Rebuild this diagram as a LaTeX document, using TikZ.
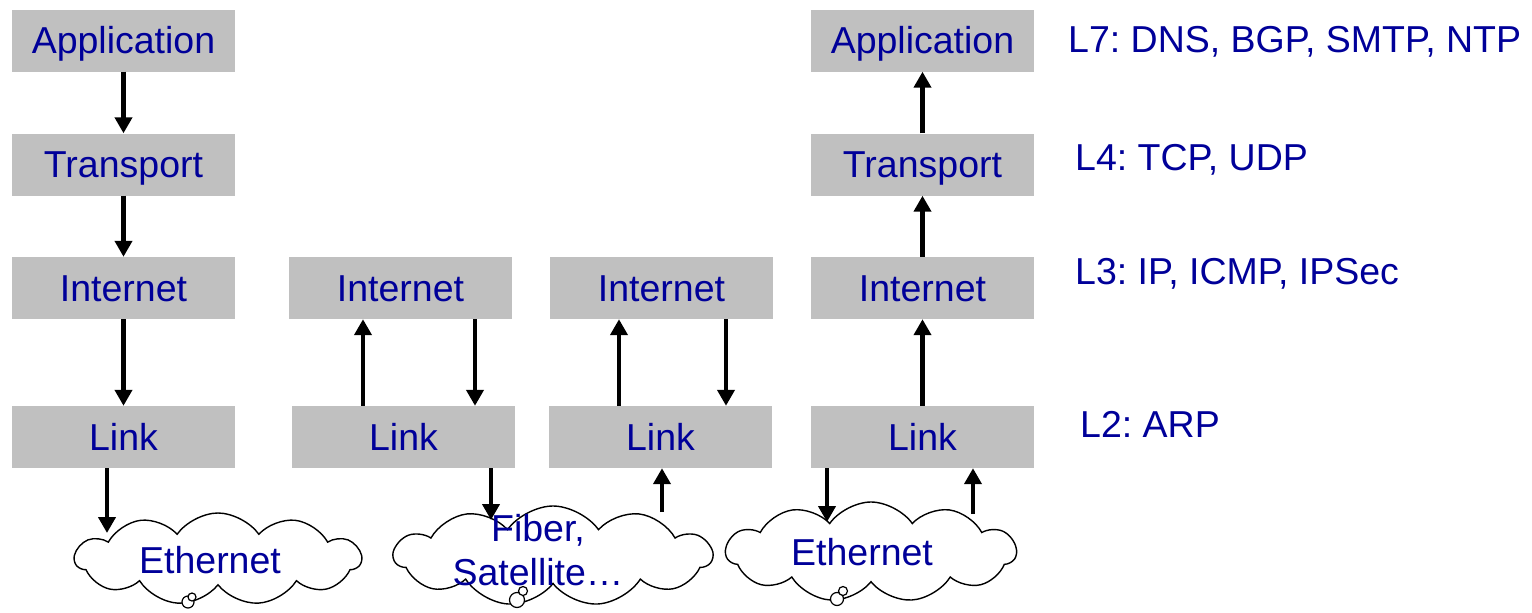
\documentclass[tikz,border=0pt]{standalone}
\usepackage{fontspec}
\setmainfont{Liberation Sans}
\usepackage{tikz}
\usetikzlibrary{arrows.meta,shapes.symbols}
\definecolor{txtblue}{RGB}{0,0,153}
\definecolor{boxgray}{RGB}{192,192,192}
\frenchspacing

\begin{document}
\begin{tikzpicture}[x=1pt,y=-1pt,
  big/.style={text=txtblue,font=\fontsize{37.5}{44}\selectfont},
  layer/.style={big,fill=boxgray,minimum width=223pt,minimum height=62pt,inner sep=0pt,text height=26.8pt,text depth=0pt},
  arr/.style={line width=4.6pt,-{Triangle[width=17pt,length=16pt]}},
  net/.style={cloud,cloud puffs=11,cloud puff arc=110,aspect=3,draw,line width=1.4pt,fill=white,inner sep=0pt},
  nettext/.style={big,align=center,inner sep=0pt},
  proto/.style={big,anchor=west,inner sep=0pt}]
\useasboundingbox (0,0) rectangle (1532,613);
% sending host
\node[layer] (app1) at (123.5,40.5) {Application};
\node[layer] (trans1) at (123.5,164.5) {Transport};
\node[layer] (inet1) at (123.5,288) {Internet};
\node[layer] (link1) at (123.5,437) {Link};
% routers
\node[layer] (inet2) at (400.5,288) {Internet};
\node[layer] (link2) at (403.5,437) {Link};
\node[layer] (inet3) at (661.5,288) {Internet};
\node[layer] (link3) at (660.5,437) {Link};
% receiving host
\node[layer] (app4) at (922.5,40.5) {Application};
\node[layer] (trans4) at (922.5,164.5) {Transport};
\node[layer] (inet4) at (922.5,288) {Internet};
\node[layer] (link4) at (922.5,437) {Link};
% networks
\node[net,minimum width=286pt,minimum height=92pt] (cloud1) at (218,559) {};
\node[net,minimum width=318pt,minimum height=100pt] (cloud2) at (553,556) {};
\node[net,minimum width=290pt,minimum height=100pt] (cloud3) at (871,552) {};
\foreach \x/\y/\r in {188/602/6,192/597/4,517/600/7.5,523/591/4.5,837/599/6.5,843/591/4.5} {
   \draw[line width=1.2pt,fill=white] (\x,\y) circle (\r);
}
\node[nettext] (eth1) at (210,560) {Ethernet};
\node[nettext] (fiber) at (538,550) {Fiber,\\Satellite\dots};
\node[nettext] (eth2) at (862,552) {Ethernet};
\coordinate (e1) at (107,533);
\coordinate (f1) at (491,520);
\coordinate (f2) at (662,512);
\coordinate (e2) at (827,522);
\coordinate (e3) at (973,514);
% stack arrows
\draw[arr] (app1) -- (trans1);
\draw[arr] (trans1) -- (inet1);
\draw[arr] (inet1) -- (link1);
\draw[arr] (link1.south -| e1) -- (e1);
\draw[arr] (link2.north -| 363,0) -- (inet2.south -| 363,0);
\draw[arr] (inet2.south -| 475,0) -- (link2.north -| 475,0);
\draw[arr] (link2.south -| f1) -- (f1);
\draw[arr] (f2) -- (link3.south -| f2);
\draw[arr] (link3.north -| 619,0) -- (inet3.south -| 619,0);
\draw[arr] (inet3.south -| 726,0) -- (link3.north -| 726,0);
\draw[arr] (link4.south -| e2) -- (e2);
\draw[arr] (e3) -- (link4.south -| e3);
\draw[arr] (link4) -- (inet4);
\draw[arr] (inet4) -- (trans4);
\draw[arr] (trans4) -- (app4);
% protocols
\node[proto] (l7) at (1068,42) {L7: DNS, BGP, SMTP, NTP};
\node[proto] (l4) at (1075,160) {L4: TCP, UDP};
\node[proto] (l3) at (1075,274) {L3: IP, ICMP, IPSec};
\node[proto] (l2) at (1080,424) {L2: ARP};
\end{tikzpicture}
\end{document}
